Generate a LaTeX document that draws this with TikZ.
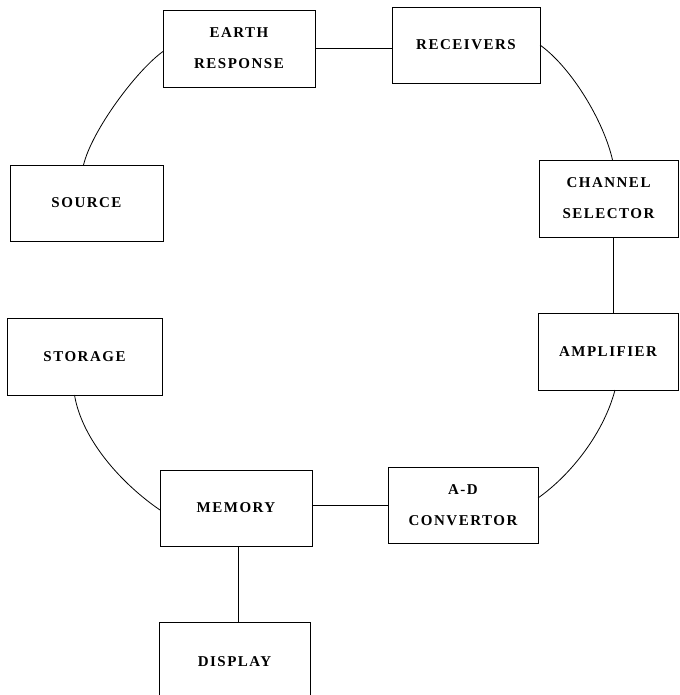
\documentclass[tikz,border=0pt]{standalone}
\usepackage{fontspec}
\newfontfamily\lblfont{Liberation Serif}[LetterSpace=10]
\begin{document}
\begin{tikzpicture}[x=1pt,y=-1pt,
  box/.style={draw, line width=0.9pt, rectangle, inner sep=0pt, outer sep=0pt,
    align=center, font={\lblfont\bfseries\fontsize{15}{31}\selectfont}},
  wire/.style={line width=0.8pt}]
\useasboundingbox (0,0) rectangle (679,695);
\node[box, minimum width=152, minimum height=77] (earth) at (239,48.5) {EARTH\\RESPONSE};
\node[box, minimum width=148, minimum height=76] (recv) at (466,45) {RECEIVERS};
\node[box, minimum width=153, minimum height=76] (source) at (86.5,203) {SOURCE};
\node[box, minimum width=139, minimum height=77] (chan) at (608.5,198.5) {CHANNEL\\SELECTOR};
\node[box, minimum width=155, minimum height=77] (storage) at (84.5,356.5) {STORAGE};
\node[box, minimum width=140, minimum height=77] (amp) at (608,351.5) {AMPLIFIER};
\node[box, minimum width=150, minimum height=76] (ad) at (463,505) {A-D\\CONVERTOR};
\node[box, minimum width=152, minimum height=76] (mem) at (236,508) {MEMORY};
\node[box, minimum width=151, minimum height=80] (disp) at (234.5,662) {DISPLAY};
% straight connectors
\draw[wire] (earth.east) -- (recv.west |- earth.east);
\draw[wire] ([xshift=5pt]chan.south) -- ([xshift=5pt]chan.south |- amp.north);
\draw[wire] (ad.west) -- (mem.east |- ad.west);
\draw[wire] ([xshift=2pt]mem.south) -- ([xshift=2pt]mem.south |- disp.north);
% curved connectors
\draw[wire] ([yshift=-3pt]earth.west) .. controls (137,70) and (92,130) .. ([xshift=-3pt]source.north);
\draw[wire] (recv.east) .. controls (572,68) and (604,122) .. ([xshift=4pt]chan.north);
\draw[wire] ([xshift=7pt]amp.south) .. controls (604,432) and (572,474) .. ([yshift=7pt]ad.east);
\draw[wire] ([yshift=-2pt]mem.west) .. controls (122,484) and (82,440) .. ([xshift=-10pt]storage.south);
\end{tikzpicture}
\end{document}
